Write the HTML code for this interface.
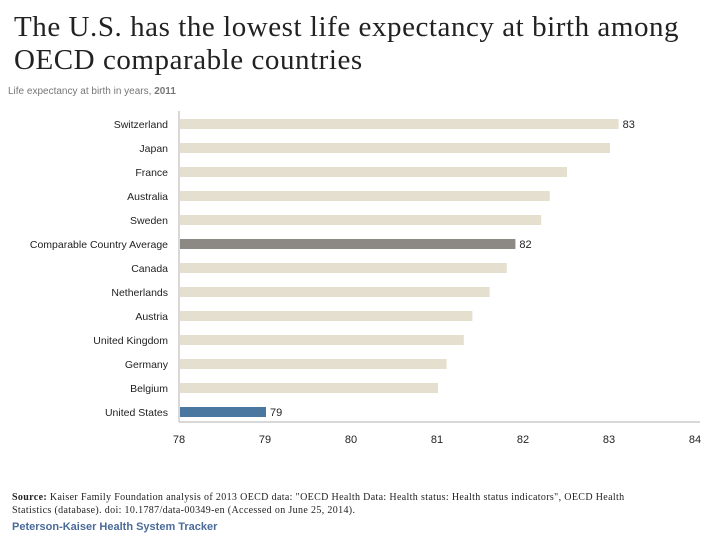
<!DOCTYPE html>
<html><head><meta charset="utf-8"><style>
body{margin:0;width:720px;height:540px;background:#fff;overflow:hidden;font-family:"Liberation Sans",sans-serif;}
#title{position:absolute;left:14px;top:11px;font-family:"Liberation Serif",serif;font-size:29px;line-height:33px;color:#222;letter-spacing:0.55px;}
#sub{position:absolute;left:8px;top:86px;font-size:10px;color:#777;}
#src{position:absolute;left:12px;top:491px;font-family:"Liberation Serif",serif;font-size:10px;line-height:13px;color:#222;width:630px;letter-spacing:0.35px;}
#brand{position:absolute;left:12px;top:521px;font-size:11px;font-weight:bold;color:#4a6a9a;}
svg{position:absolute;left:0;top:0;}
</style></head><body>
<div id="title">The U.S. has the lowest life expectancy at birth among<br>OECD comparable countries</div>
<div id="sub">Life expectancy at birth in years, <b>2011</b></div>
<svg id="chart" width="720" height="540"></svg>
<div id="src"><b>Source:</b> Kaiser Family Foundation analysis of 2013 OECD data: "OECD Health Data: Health status: Health status indicators", OECD Health<br>Statistics (database). doi: 10.1787/data-00349-en (Accessed on June 25, 2014).</div>
<div id="brand">Peterson-Kaiser Health System Tracker</div>
<script>
const categories=["Switzerland","Japan","France","Australia","Sweden","Comparable Country Average","Canada","Netherlands","Austria","United Kingdom","Germany","Belgium","United States"];
const values=[83.1,83.0,82.5,82.3,82.2,81.9,81.8,81.6,81.4,81.3,81.1,81.0,79.0];
const printed=["83","","","","","82","","","","","","","79"];
const ticks=[78,79,80,81,82,83,84];
const svg=document.getElementById('chart');
const NS='http://www.w3.org/2000/svg';
const x=v=>180+(v-78)*86;
const y=i=>124+i*24;
function mk(t,a){const e=document.createElementNS(NS,t);for(const k in a)e.setAttribute(k,a[k]);svg.appendChild(e);return e;}
categories.forEach((c,i)=>{
 const col=i===12?'#4a77a0':(i===5?'#8c8884':'#e5dfcf');
 const r=mk('rect',{x:180,y:y(i)-5,width:x(values[i])-180,height:10,fill:col});
 
 
 const l=mk('text',{x:168,y:y(i)+4,'text-anchor':'end','font-size':10.5,fill:'#222'});
 l.textContent=c;
 
 
 if(printed[i]){const t=mk('text',{x:x(values[i])+4,y:y(i)+4,'font-size':11,fill:'#222'});t.textContent=printed[i];
 
 }
});
const ya=mk('line',{x1:179,y1:111,x2:179,y2:422,stroke:'#ccc','stroke-width':1.5});


const xa=mk('line',{x1:179,y1:422,x2:700,y2:422,stroke:'#ccc','stroke-width':1.5});


ticks.forEach(t=>{const e=mk('text',{x:x(t)-1,y:443,'text-anchor':'middle','font-size':11,fill:'#222'});e.textContent=t;
 
 });
</script>
</body></html>
